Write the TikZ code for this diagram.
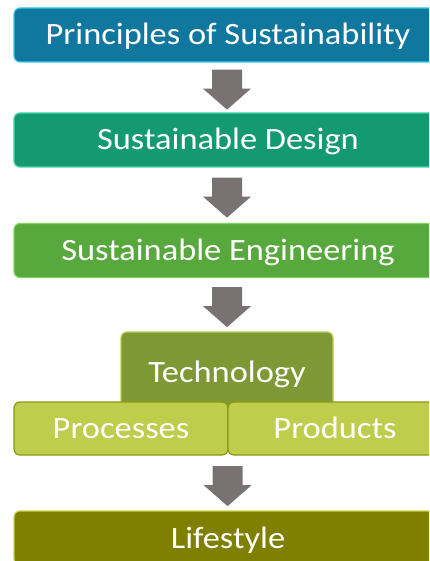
\documentclass[tikz,border=0pt]{standalone}
\usepackage{fontspec}
\setmainfont{Carlito}[FakeStretch=1.11]
\usetikzlibrary{calc}
\definecolor{cA}{HTML}{10789F}
\definecolor{cAb}{HTML}{3CC8E6}
\definecolor{cB}{HTML}{149A70}
\definecolor{cBb}{HTML}{40D6A6}
\definecolor{cC}{HTML}{57A83D}
\definecolor{cCb}{HTML}{80D45C}
\definecolor{cT}{HTML}{7E9835}
\definecolor{cTb}{HTML}{B4CE50}
\definecolor{cP}{HTML}{BECD4C}
\definecolor{cPb}{HTML}{8C9A10}
\definecolor{cL}{HTML}{808000}
\definecolor{cLb}{HTML}{C4D448}
\definecolor{arrowgray}{HTML}{787372}
\tikzset{
  box/.style={rounded corners=6pt, line width=1.2pt, text=white,
    font=\fontsize{31}{37}\selectfont, text height=20pt, text depth=0pt,
    inner sep=0pt, minimum height=54pt},
  widebox/.style={box, minimum width=428pt},
  halfbox/.style={box, minimum width=214pt, minimum height=53pt},
}
\newcommand{\blockarr}[1]{%
  \fill[arrowgray] ($(#1)+(-15,0)$) -- ($(#1)+(15,0)$) -- ($(#1)+(15,19)$) -- ($(#1)+(24,19)$)
    -- ($(#1)+(0,40)$) -- ($(#1)+(-24,19)$) -- ($(#1)+(-15,19)$) -- cycle;}
\begin{document}
\begin{tikzpicture}[x=1pt,y=-1pt]
\clip (0,0) rectangle (429,561);
\node[widebox, fill=cA, draw=cAb] (b1) at (228,35) {Principles of Sustainability};
\node[widebox, fill=cB, draw=cBb] (b2) at (228,140) {Sustainable Design};
\node[widebox, fill=cC, draw=cCb] (b3) at (228,250.5) {Sustainable Engineering};
\node[box, fill=cT, draw=cTb, minimum width=212pt, minimum height=80pt] (tech) at (227,372) {Technology};
\node[halfbox, fill=cP, draw=cPb] (proc) at (121,428.5) {Processes};
\node[halfbox, fill=cP, draw=cPb] (prod) at (335,428.5) {Products};
\node[widebox, fill=cL, draw=cLb] (life) at (228,538) {Lifestyle};
\coordinate (a1) at ($(b1.south)+(-1,7)$);
\coordinate (a2) at ($(b2.south)+(-1,10)$);
\coordinate (a3) at ($(b3.south)+(-1,9)$);
\coordinate (a4) at ($(proc.south east)+(-1,10.5)$);
\blockarr{a1}
\blockarr{a2}
\blockarr{a3}
\blockarr{a4}
\end{tikzpicture}
\end{document}
